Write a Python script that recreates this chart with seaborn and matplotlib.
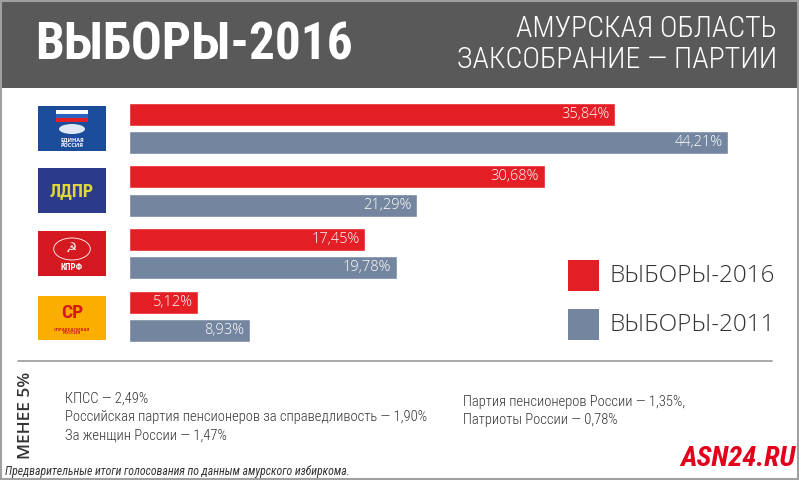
import matplotlib
matplotlib.use("Agg")
import matplotlib.pyplot as plt
from matplotlib.patches import Rectangle, Circle, Ellipse
import seaborn as sns
import pandas as pd

parties = ["ЕР", "ЛДПР", "КПРФ", "СР"]
votes_2016 = [35.84, 30.68, 17.45, 5.12]
votes_2011 = [44.21, 21.29, 19.78, 8.93]
years = ["ВЫБОРЫ-2016", "ВЫБОРЫ-2011"]
minor_left = ["КПСС — 2,49%",
              "Российская партия пенсионеров за справедливость — 1,90%",
              "За женщин России — 1,47%"]
minor_right = ["Партия пенсионеров России — 1,35%,",
               "Патриоты России — 0,78%"]

RED = "#e31e24"
GREY = "#74869f"
COND = ["Roboto Condensed", "PT Sans Narrow", "Oswald", "DejaVu Sans"]
COND_LIGHT = ["Open Sans Condensed Light", "Roboto Condensed Light", "Roboto Condensed",
              "PT Sans Narrow", "DejaVu Sans"]

sns.set_theme(style="white")
plt.rcParams["font.family"] = ["Open Sans", "DejaVu Sans"]

W, H = 799, 480
fig = plt.figure(figsize=(W / 100, H / 100), dpi=100)
fig.patch.set_facecolor("white")


def fx(x):
    return x / W


def fy(y):
    return 1 - y / H


def rect(x0, y0, x1, y1, **kw):
    fig.patches.append(Rectangle((fx(x0), fy(y1)), fx(x1 - x0), (y1 - y0) / H,
                                 transform=fig.transFigure, figure=fig, **kw))


# header
rect(0, 0, W, 88, facecolor="#595959", edgecolor="none")
fig.text(fx(35), fy(46), "ВЫБОРЫ-2016", color="white", fontsize=37,
         fontweight="bold", family=COND, ha="left", va="center")
fig.text(fx(777), fy(29), "АМУРСКАЯ ОБЛАСТЬ", color="white", fontsize=21.5,
         fontweight="light", family=COND_LIGHT, ha="right", va="center")
fig.text(fx(777), fy(60), "ЗАКСОБРАНИЕ — ПАРТИИ", color="white", fontsize=21.5,
         fontweight="light", family=COND_LIGHT, ha="right", va="center")

# bars
scale = 13.55
left_px, right_px = 129, 772
top_px, bot_px = 90, 355
ax = fig.add_axes([fx(left_px), fy(bot_px), fx(right_px - left_px), (bot_px - top_px) / H])
df = pd.DataFrame({
    "party": parties * 2,
    "value": votes_2016 + votes_2011,
    "year": [years[0]] * len(parties) + [years[1]] * len(parties),
})
sns.barplot(data=df, y="party", x="value", hue="year", orient="h",
            palette=[RED, GREY], width=0.905, gap=0.19, legend=False,
            saturation=1, ax=ax)
ax.set_xlim(0, (right_px - left_px) / scale)
pitch = 62.75
c0 = 128.25
ax.set_ylim((bot_px - c0) / pitch, (top_px - c0) / pitch)
ax.axis("off")

for cont in ax.containers:
    for p in cont.patches:
        v = p.get_width()
        ax.annotate(f"{v:.2f}".replace(".", ",") + "%",
                    (v, p.get_y() + p.get_height() / 2),
                    xytext=(-4, 0), textcoords="offset points",
                    ha="right", va="center", color="white", fontsize=10.5,
                    fontweight="light")

# logos
logo_y = [(106, 151), (168, 213), (231, 276), (296, 340)]
x0, x1 = 38, 106
# ЕР
rect(x0, logo_y[0][0], x1, logo_y[0][1], facecolor="#1b4d9b", edgecolor="none")
rect(56, 110, 88, 114, facecolor="white", edgecolor="none")
rect(56, 114, 88, 118, facecolor="#2a64c0", edgecolor="none")
rect(56, 118, 88, 122, facecolor="#e31e24", edgecolor="none")
fig.patches.append(Ellipse((fx(72), fy(129)), 26 / W, 10 / H, transform=fig.transFigure,
                           figure=fig, facecolor="#dfe7f5", edgecolor="none"))
fig.text(fx(72), fy(143), "ЕДИНАЯ\nРОССИЯ", color="white", fontsize=4,
         fontweight="bold", ha="center", va="center", linespacing=1.0)
# ЛДПР
rect(x0, logo_y[1][0], x1, logo_y[1][1], facecolor="#2c3a8a", edgecolor="none")
fig.text(fx(72), fy(191), "ЛДПР", color="#dfd63a", fontsize=13, fontweight="bold",
         ha="center", va="center", family=COND)
# КПРФ
rect(x0, logo_y[2][0], x1, logo_y[2][1], facecolor="#d51920", edgecolor="none")
fig.patches.append(Circle((fx(72), fy(249)), 11 / H, transform=fig.transFigure,
                          figure=fig, facecolor="none", edgecolor="white", lw=0.6))
fig.text(fx(72), fy(249), "☭", color="white", fontsize=9, ha="center", va="center",
         family=["DejaVu Sans"])
fig.text(fx(72), fy(268), "КПРФ", color="white", fontsize=6.5, fontweight="bold",
         ha="center", va="center", family=COND)
# СР
rect(x0, logo_y[3][0], x1, logo_y[3][1], facecolor="#f9ae00", edgecolor="none")
fig.text(fx(72), fy(313), "СР", color="#d51920", fontsize=14, fontweight="bold",
         ha="center", va="center", family=COND)
fig.text(fx(72), fy(331), "СПРАВЕДЛИВАЯ\nРОССИЯ", color="#d51920", fontsize=3.2,
         fontweight="bold", ha="center", va="center", linespacing=1.0)

# legend
rect(568, 260, 599, 291, facecolor=RED, edgecolor="none")
rect(568, 309, 599, 340, facecolor=GREY, edgecolor="none")
fig.text(fx(610), fy(276), years[0], color="#333333", fontsize=17.5, ha="left",
         va="center", fontweight="light")
fig.text(fx(610), fy(325), years[1], color="#333333", fontsize=17.5, ha="left",
         va="center", fontweight="light")

# separator
fig.add_artist(plt.Line2D([fx(18), fx(772)], [fy(361), fy(361)], color="#9a9a9a", lw=1.2))

# minor parties
fig.text(fx(26), fy(415), "МЕНЕЕ 5%", color="#333333", fontsize=12.5, rotation=90,
         ha="center", va="center", fontweight="semibold")
for i, t in enumerate(minor_left):
    fig.text(fx(65), fy(399 + i * 18.5), t, color="#333333", fontsize=10.5,
             ha="left", va="center", family=COND_LIGHT, fontweight="light")
for i, t in enumerate(minor_right):
    fig.text(fx(463), fy(402 + i * 18), t, color="#333333", fontsize=10.5,
             ha="left", va="center", family=COND_LIGHT, fontweight="light")

fig.text(fx(795), fy(458), "ASN24.RU", color="#e2001a", fontsize=20.5,
         fontweight="bold", style="italic", family=COND, ha="right", va="center")
fig.text(fx(5), fy(472), "Предварительные итоги голосования по данным амурского избиркома.",
         color="#333333", fontsize=8.5, style="italic", ha="left", va="center",
         family=COND)

# frame
rect(0.5, 0.5, W - 1.5, H - 1.5, facecolor="none", edgecolor="#a0a0a0", lw=1.5)

fig.savefig("out.png", dpi=100)
